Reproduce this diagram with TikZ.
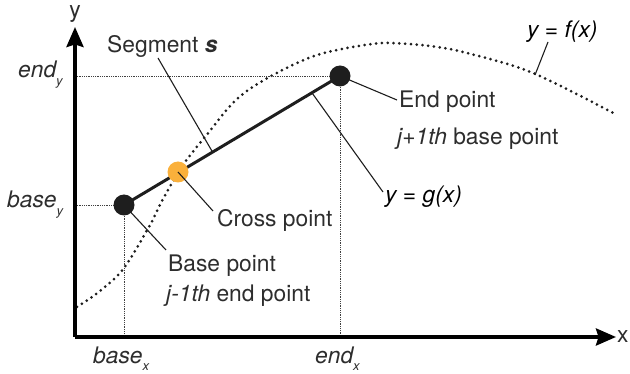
\documentclass[tikz,border=0pt]{standalone}
\usepackage{fontspec}
\setmainfont{TeX Gyre Heros}
\usetikzlibrary{arrows.meta,calc}
\definecolor{crossorange}{RGB}{250,176,59}
\definecolor{txt}{RGB}{45,45,45}
\definecolor{dotc}{RGB}{30,30,30}
\newcommand{\lsub}[1]{\raisebox{-8pt}{\fontsize{13}{13}\selectfont #1}}
\begin{document}
\begin{tikzpicture}[x=1pt,y=-1pt,
  lbl/.style={font=\fontsize{22.8}{26}\selectfont, text=txt, inner sep=0pt, anchor=base west},
  axisline/.style={line width=3.5pt, -{Stealth[length=20pt,width=17pt,inset=2.5pt]}},
  guide/.style={line width=0.8pt, densely dotted, black!75},
  fcurve/.style={line width=3pt, dash pattern=on 0pt off 5.8pt, line cap=round, dotc},
  segline/.style={line width=3pt, dotc},
  leader/.style={line width=1.1pt, dotc},
  ptdot/.style={circle, fill=dotc, minimum size=21pt, inner sep=0pt},
  crossdot/.style={circle, fill=crossorange, minimum size=21pt, inner sep=0pt}]
\useasboundingbox (0,0) rectangle (630,374);

% axes
\coordinate (origin) at (75,337);
\coordinate (ytip) at (75,27);
\coordinate (xtip) at (616,337);

% points
\coordinate (bpc) at (124,205);
\coordinate (epc) at (340,76);
\coordinate (cpc) at (178,172);

% f(x) curve
\draw[fcurve] plot[smooth, tension=0.55] coordinates {(77,307) (100,291) (124,268) (150,225) (163,199) (183,165) (205,137) (237,99) (273,75) (317,55) (365,45) (390,43) (430,46) (467,53) (533,73) (617,115)};
\coordinate (fon) at (535,75);

% guide lines
\coordinate (gy1) at (75,76);
\coordinate (gy2) at (75,205);
\coordinate (gx1) at (124,337);
\coordinate (gx2) at (340,337);
\draw[guide] (gy1) -- (epc);
\draw[guide] (gy2) -- (bpc);
\draw[guide] (bpc) -- (gx1);
\draw[guide] (epc) -- (gx2);

% axes
\draw[axisline] (origin) -- (ytip);
\draw[axisline] (origin) -- (xtip);
\node[lbl, anchor=base] (ylab) at (75,18) {y};
\node[lbl] (xlab) at (617,343) {x};

% segment
\draw[segline] (bpc) -- (epc);

% labels
\node[lbl] (endy) at (18,78) {\itshape end\lsub{y}};
\node[lbl] (basey) at (7,208) {\itshape base\lsub{y}};
\node[lbl] (basex) at (93,363) {\itshape base\lsub{x}};
\node[lbl] (endx) at (315,363) {\itshape end\lsub{x}};

\node[lbl] (seglab) at (107,53) {Segment \textbf{\itshape s}};
\node[lbl] (crosslab) at (217,227) {Cross point};
\node[lbl] (baselab1) at (168,272) {Base point};
\node[lbl] (baselab2) at (166,302) {\itshape j-1th\upshape{} end point};
\node[lbl] (endlab1) at (399,108) {End point};
\node[lbl] (endlab2) at (397,145) {\itshape j+1th\upshape{} base point};
\node[lbl, text=black] (flab) at (527,38) {\itshape y = f(x)};
\node[lbl, text=black] (glab) at (385,203) {\itshape y = g(x)};

% leaders
\coordinate (segl) at (158,58);
\coordinate (segon) at ($(bpc)!0.41!(epc)$);
\draw[leader] (segl) -- (segon);
\coordinate (gon) at ($(bpc)!0.87!(epc)$);
\coordinate (gl) at (383,192);
\draw[leader] (gon) -- (gl);
\coordinate (fl) at (548,42);
\draw[leader] (fl) -- (fon);
\coordinate (bl) at (166,250);
\draw[leader] (bpc) -- (bl);
\coordinate (el) at (397,100);
\draw[leader] (epc) -- (el);

% dots
\node[ptdot] (bp) at (bpc) {};
\node[ptdot] (ep) at (epc) {};
\node[crossdot] (cp) at (cpc) {};
\coordinate (cl) at (213,211);
\draw[leader] (cp.center) -- (cl);
\end{tikzpicture}
\end{document}
